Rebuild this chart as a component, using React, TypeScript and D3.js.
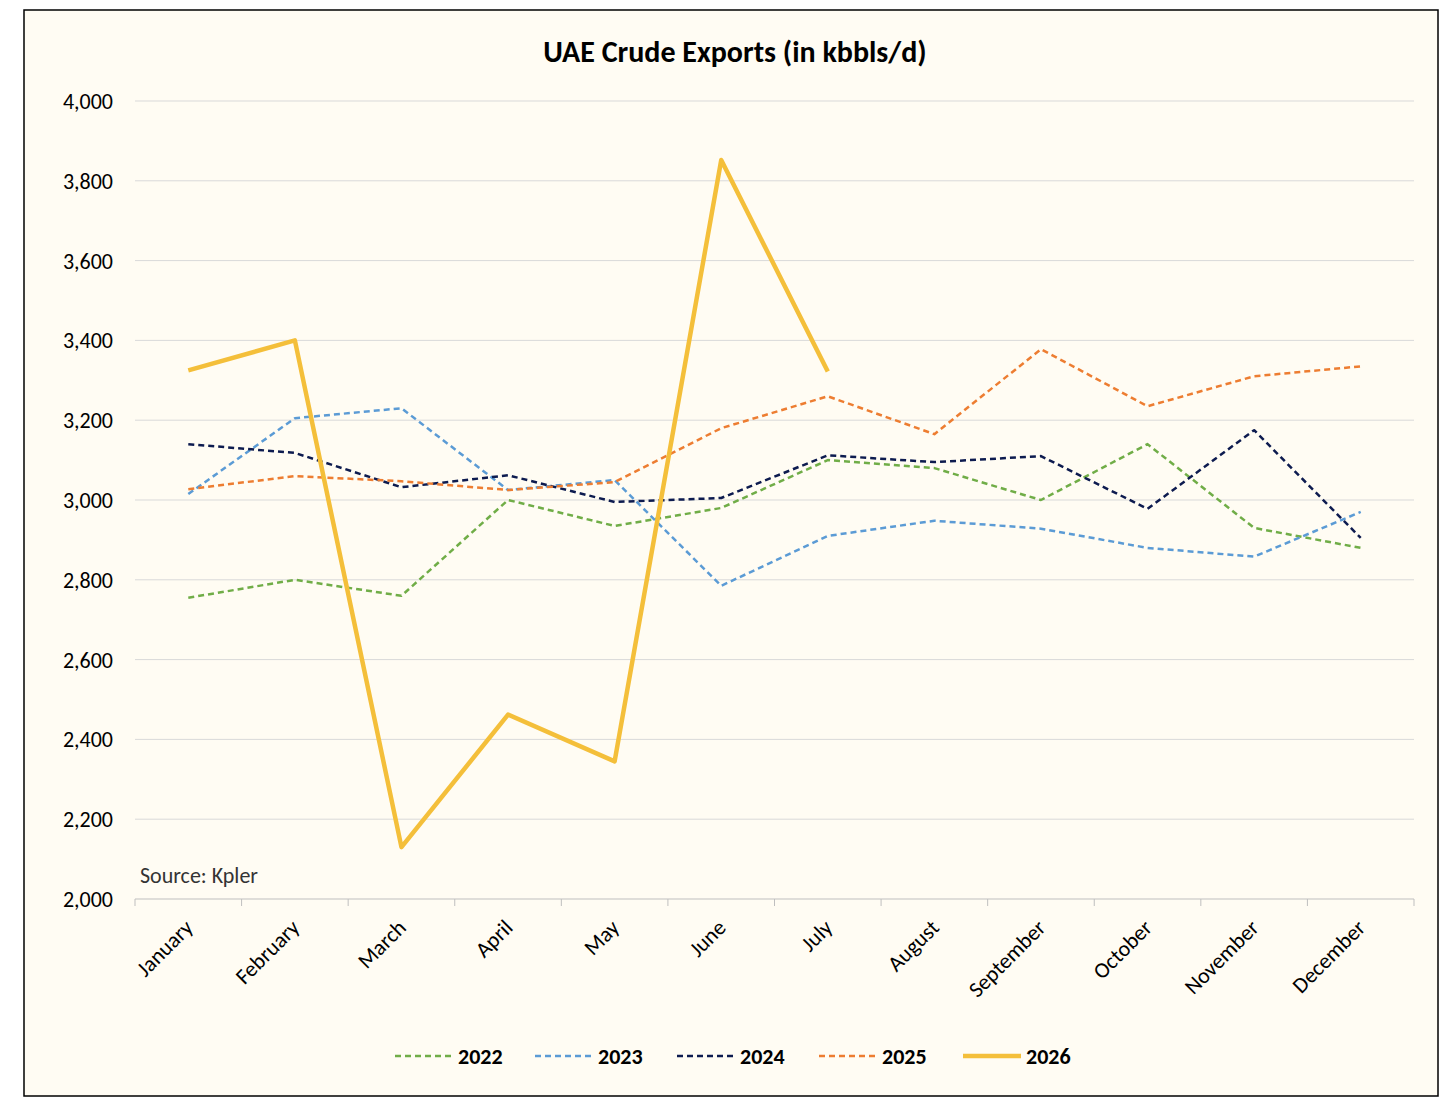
import React from "react";
import * as d3 from "d3";

const months = ["January","February","March","April","May","June","July","August","September","October","November","December"];
const v2022 = [2755,2800,2760,3000,2935,2980,3100,3080,3000,3140,2930,2880];
const v2023 = [3015,3205,3230,3025,3050,2785,2910,2948,2928,2880,2858,2970];
const v2024 = [3140,3118,3032,3062,2995,3005,3112,3095,3110,2978,3175,2905];
const v2025 = [3027,3060,3047,3025,3045,3180,3260,3165,3378,3235,3310,3335];
const v2026 = [3325,3400,2130,2462,2345,3852,3322];
const yTicks = [2000,2200,2400,2600,2800,3000,3200,3400,3600,3800,4000];

const series = [
  { name: "2022", values: v2022, color: "#70ad47", dash: "6,4", width: 2.5 },
  { name: "2023", values: v2023, color: "#5b9bd5", dash: "6,4", width: 2.5 },
  { name: "2024", values: v2024, color: "#0d1b4f", dash: "6,4", width: 2.5 },
  { name: "2025", values: v2025, color: "#ed7d31", dash: "6,4", width: 2.5 },
  { name: "2026", values: v2026, color: "#f4bf3a", dash: null, width: 4.5 },
];

export default function App() {
  const W = 1456, H = 1108;
  const x0 = 135, x1 = 1414, yTop = 101, yBot = 899;
  const x = d3.scaleBand<string>().domain(months).range([x0, x1]);
  const y = d3.scaleLinear().domain([2000, 4000]).range([yBot, yTop]);
  const line = d3.line<number>().x((_, i) => (x(months[i]) as number) + x.bandwidth() / 2).y(d => y(d));
  const font = "Carlito, 'Liberation Sans', Arial, sans-serif";
  const legendX = [395, 535, 677, 819, 963];
  return (
    <svg width={W} height={H} style={{ position: "absolute", left: 0, top: 0 }} fontFamily={font}>
      <rect x={24} y={10} width={1414} height={1086} fill="#fffcf3" stroke="#000" strokeWidth={1.5} />
      <text x={735} y={62} textAnchor="middle" fontSize={30} fontWeight="bold">UAE Crude Exports (in kbbls/d)</text>
      {yTicks.map(t => (
        <g key={t}>
          {t > 2000 && <line x1={x0} x2={x1} y1={y(t)} y2={y(t)} stroke="#d9d9d9" strokeWidth={1} />}
          <text x={113} y={y(t) + 8} textAnchor="end" fontSize={22}>{d3.format(",")(t)}</text>
        </g>
      ))}
      <line x1={x0} x2={x1} y1={yBot} y2={yBot} stroke="#bfbfbf" />
      {months.map((m, i) => (
        <g key={m}>
          <line x1={x0 + i * x.bandwidth()} x2={x0 + i * x.bandwidth()} y1={yBot} y2={yBot + 7} stroke="#bfbfbf" />
          <text transform={`translate(${(x(m) as number) + x.bandwidth() / 2 + 6},${yBot + 30}) rotate(-45)`} textAnchor="end" fontSize={22}>{m}</text>
        </g>
      ))}
      <line x1={x1} x2={x1} y1={yBot} y2={yBot + 7} stroke="#bfbfbf" />
      <text x={140} y={883} fontSize={22} fill="#333">Source: Kpler</text>
      {series.map(s => (
        <path key={s.name} d={line(s.values) as string} fill="none" stroke={s.color} strokeWidth={s.width} strokeDasharray={s.dash ?? undefined} strokeLinejoin="round" />
      ))}
      {series.map((s, i) => (
        <g key={s.name}>
          <line x1={legendX[i]} x2={legendX[i] + 58} y1={1056} y2={1056} stroke={s.color} strokeWidth={s.width} strokeDasharray={s.dash ?? undefined} />
          <text x={legendX[i] + 63} y={1064} fontSize={22} fontWeight="bold">{s.name}</text>
        </g>
      ))}
    </svg>
  );
}
